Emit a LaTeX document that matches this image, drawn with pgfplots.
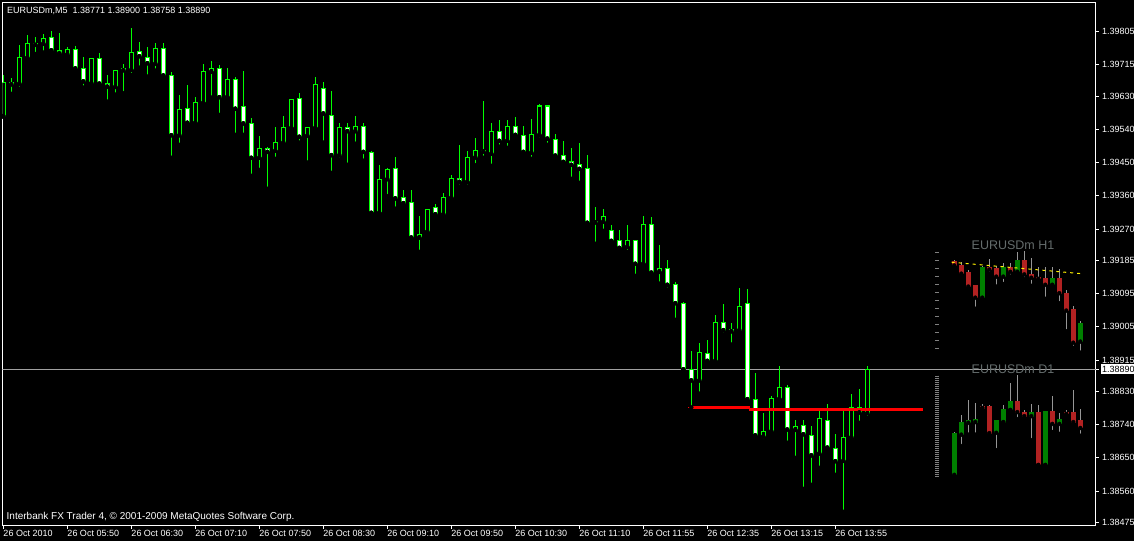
\documentclass[border=0pt]{standalone}
\usepackage{fontspec}
\setmainfont{Liberation Sans}
\usepackage{pgfplots}
\usepackage{pgfplotstable}
\pgfplotsset{compat=1.18}

\definecolor{mtgreen}{RGB}{0,255,0}
\definecolor{bidgray}{RGB}{160,160,160}
\definecolor{titlegray}{RGB}{100,108,108}
\definecolor{markgray}{RGB}{128,128,128}
\definecolor{minired}{RGB}{178,34,34}
\definecolor{minigreen}{RGB}{0,128,0}
\definecolor{wickgray}{RGB}{150,150,150}

% EURUSDm M5 candles: bar index, open, high, low, close
\pgfplotstableread{
x o h l c
0 1.39576 1.39687 1.39574 1.39667
2 1.39664 1.39768 1.39650 1.39735
3 1.39734 1.39795 1.39723 1.39773
4 1.39769 1.39789 1.39744 1.39772
5 1.39772 1.39798 1.39748 1.39785
8 1.39743 1.39762 1.39734 1.39757
11 1.39665 1.39734 1.39663 1.39732
14 1.39655 1.39702 1.39634 1.39700
15 1.39700 1.39716 1.39638 1.39705
16 1.39701 1.39814 1.39687 1.39749
19 1.39718 1.39773 1.39699 1.39759
22 1.39524 1.39633 1.39498 1.39594
24 1.39558 1.39627 1.39554 1.39613
25 1.39612 1.39716 1.39610 1.39697
26 1.39696 1.39725 1.39626 1.39705
28 1.39628 1.39705 1.39619 1.39675
32 1.39463 1.39522 1.39430 1.39489
34 1.39482 1.39546 1.39460 1.39505
35 1.39504 1.39576 1.39495 1.39545
36 1.39544 1.39623 1.39542 1.39621
38 1.39523 1.39547 1.39450 1.39545
39 1.39544 1.39681 1.39538 1.39662
42 1.39470 1.39557 1.39458 1.39545
44 1.39535 1.39575 1.39501 1.39548
47 1.39314 1.39443 1.39312 1.39405
48 1.39405 1.39434 1.39359 1.39432
52 1.39247 1.39305 1.39208 1.39256
53 1.39263 1.39325 1.39254 1.39323
55 1.39310 1.39367 1.39301 1.39356
56 1.39355 1.39416 1.39350 1.39407
58 1.39398 1.39481 1.39385 1.39464
59 1.39464 1.39516 1.39443 1.39483
60 1.39480 1.39617 1.39463 1.39483
61 1.39474 1.39557 1.39441 1.39535
63 1.39509 1.39565 1.39490 1.39548
66 1.39477 1.39568 1.39460 1.39526
67 1.39525 1.39609 1.39513 1.39603
74 1.39288 1.39330 1.39230 1.39291
75 1.39290 1.39324 1.39265 1.39304
78 1.39222 1.39281 1.39208 1.39239
80 1.39176 1.39305 1.39174 1.39283
82 1.39154 1.39227 1.39122 1.39163
87 1.38860 1.38960 1.38824 1.38936
89 1.38913 1.39037 1.38905 1.39017
92 1.38996 1.39110 1.38991 1.39061
95 1.38708 1.38771 1.38696 1.38722
96 1.38722 1.38818 1.38720 1.38811
97 1.38810 1.38899 1.38805 1.38841
99 1.38726 1.38753 1.38650 1.38736
102 1.38662 1.38784 1.38623 1.38757
105 1.38642 1.38780 1.38504 1.38706
106 1.38706 1.38823 1.38696 1.38787
108 1.38771 1.38900 1.38758 1.38890
}\mainbull

\pgfplotstableread{
x o h l c
1 1.39667 1.39678 1.39636 1.39662
6 1.39789 1.39806 1.39744 1.39754
7 1.39754 1.39800 1.39741 1.39746
9 1.39757 1.39766 1.39699 1.39705
10 1.39705 1.39735 1.39653 1.39670
12 1.39732 1.39746 1.39661 1.39664
13 1.39664 1.39687 1.39615 1.39656
17 1.39750 1.39776 1.39707 1.39738
18 1.39734 1.39762 1.39683 1.39719
20 1.39759 1.39773 1.39684 1.39686
21 1.39686 1.39694 1.39463 1.39524
23 1.39597 1.39660 1.39547 1.39558
27 1.39705 1.39714 1.39579 1.39627
29 1.39675 1.39681 1.39525 1.39596
30 1.39602 1.39698 1.39525 1.39556
31 1.39556 1.39570 1.39414 1.39463
33 1.39489 1.39491 1.39379 1.39479
37 1.39624 1.39638 1.39504 1.39520
40 1.39651 1.39667 1.39504 1.39583
41 1.39578 1.39644 1.39422 1.39470
43 1.39545 1.39557 1.39444 1.39535
45 1.39548 1.39557 1.39455 1.39479
46 1.39478 1.39480 1.39312 1.39314
49 1.39434 1.39464 1.39325 1.39353
50 1.39356 1.39376 1.39330 1.39340
51 1.39342 1.39376 1.39245 1.39247
54 1.39329 1.39338 1.39308 1.39310
57 1.39407 1.39497 1.39385 1.39398
62 1.39535 1.39565 1.39493 1.39509
64 1.39548 1.39573 1.39520 1.39525
65 1.39524 1.39549 1.39475 1.39479
68 1.39603 1.39605 1.39498 1.39515
69 1.39513 1.39526 1.39467 1.39469
70 1.39470 1.39508 1.39450 1.39452
71 1.39453 1.39489 1.39406 1.39444
72 1.39445 1.39503 1.39395 1.39433
73 1.39434 1.39470 1.39281 1.39287
76 1.39266 1.39281 1.39236 1.39238
77 1.39239 1.39267 1.39217 1.39219
79 1.39239 1.39241 1.39143 1.39176
81 1.39283 1.39302 1.39149 1.39152
83 1.39163 1.39186 1.39106 1.39119
84 1.39120 1.39126 1.39024 1.39069
85 1.39069 1.39071 1.38886 1.38890
86 1.38890 1.38939 1.38787 1.38860
88 1.38933 1.38969 1.38906 1.38913
90 1.39017 1.39067 1.38984 1.38996
91 1.38998 1.39015 1.38957 1.38993
93 1.39069 1.39107 1.38799 1.38809
94 1.38809 1.38880 1.38709 1.38711
98 1.38841 1.38847 1.38691 1.38727
100 1.38738 1.38753 1.38566 1.38714
101 1.38711 1.38736 1.38577 1.38657
103 1.38752 1.38796 1.38676 1.38678
104 1.38676 1.38715 1.38604 1.38641
107 1.38787 1.38837 1.38745 1.38773
}\mainbear

% H1 overview panel
\pgfplotstableread{
x o h l c
122.375 1.39084 1.39169 1.39078 1.39167
125 1.39141 1.39177 1.39121 1.39167
126.75 1.39154 1.39207 1.39152 1.39185
131.125 1.39119 1.39168 1.39117 1.39136
134.625 1.38965 1.39021 1.38935 1.39015
}\hbull
\pgfplotstableread{
x o h l c
118.875 1.39181 1.39186 1.39168 1.39171
119.75 1.39172 1.39180 1.39143 1.39149
120.625 1.39151 1.39159 1.39108 1.39114
121.5 1.39116 1.39118 1.39054 1.39084
123.25 1.39167 1.39188 1.39148 1.39160
124.125 1.39164 1.39170 1.39114 1.39141
125.875 1.39167 1.39177 1.39141 1.39154
127.625 1.39185 1.39210 1.39134 1.39147
128.5 1.39147 1.39191 1.39116 1.39138
129.375 1.39139 1.39167 1.39130 1.39135
130.25 1.39136 1.39168 1.39081 1.39119
132 1.39136 1.39161 1.39069 1.39096
132.875 1.39096 1.39105 1.38993 1.39049
133.75 1.39053 1.39061 1.38948 1.38962
}\hbear

% D1 overview panel
\pgfplotstableread{
x o h l c
118.875 1.38604 1.38721 1.38599 1.38715
119.75 1.38713 1.38766 1.38682 1.38747
120.625 1.38745 1.38807 1.38713 1.38750
121.5 1.38747 1.38799 1.38713 1.38753
124.125 1.38718 1.38751 1.38671 1.38750
125 1.38747 1.38793 1.38746 1.38782
125.875 1.38780 1.38854 1.38779 1.38804
128.5 1.38763 1.38796 1.38698 1.38772
130.25 1.38631 1.38778 1.38630 1.38777
132 1.38742 1.38772 1.38715 1.38753
}\dbull
\pgfplotstableread{
x o h l c
122.375 1.38790 1.38796 1.38785 1.38785
123.25 1.38788 1.38793 1.38713 1.38717
126.75 1.38804 1.38875 1.38755 1.38774
127.625 1.38772 1.38780 1.38753 1.38763
129.375 1.38774 1.38793 1.38630 1.38631
131.125 1.38777 1.38818 1.38720 1.38742
132.875 1.38774 1.38780 1.38766 1.38769
133.75 1.38772 1.38834 1.38739 1.38747
134.625 1.38750 1.38782 1.38710 1.38731
}\dbear

\pgfplotsset{
  candle/.style 2 args={only marks, mark=none, forget plot,
    error bars/.cd, y dir=plus, y explicit, error mark=none,
    error bar style={line width=#1, #2}},
}
\newcommand\mtfont{\fontsize{9}{10}\selectfont}

\begin{document}
\begin{tikzpicture}[x=1pt,y=1pt]
\fill[black] (-2.5,-15.5) rectangle (1131.5,525.5);
\begin{axis}[
  at={(0,0)}, anchor=south west,
  scale only axis, width=1093.5pt, height=523pt,
  xmin=-0.1, xmax=136.5875,
  ymin=1.3846686, ymax=1.3988356,
  axis line style={white, line width=1pt},
  major tick length=3pt, tick align=outside,
  tick style={white, line width=1pt},
  xtick={0,8,...,104}, xtick pos=left,
  xticklabels={26 Oct 2010,26 Oct 05:50,26 Oct 06:30,26 Oct 07:10,26 Oct 07:50,26 Oct 08:30,26 Oct 09:10,26 Oct 09:50,26 Oct 10:30,26 Oct 11:10,26 Oct 11:55,26 Oct 12:35,26 Oct 13:15,26 Oct 13:55},
  xticklabel style={anchor=north west, inner sep=0pt, text=white, font=\mtfont, yshift=-1.5pt},
  ytick={1.38475,1.38560,1.38650,1.38740,1.38830,1.38915,1.39005,1.39095,1.39185,1.39270,1.39360,1.39450,1.39540,1.39630,1.39715,1.39805},
  yticklabels={1.38475,1.38560,1.38650,1.38740,1.38830,1.38915,1.39005,1.39095,1.39185,1.39270,1.39360,1.39450,1.39540,1.39630,1.39715,1.39805},
  ytick pos=right, yticklabel pos=right,
  yticklabel style={anchor=west, inner sep=0pt, text=white, font=\mtfont, xshift=3pt},
  extra y ticks={1.38890}, extra y tick labels={1.38890},
  extra y tick style={yticklabel style={fill=white, text=black, inner xsep=1.5pt, inner ysep=2pt, xshift=-1.5pt}},
]
% current bid line
\addplot[bidgray, line width=1pt, forget plot] coordinates {(-0.1,1.38890) (136.5875,1.38890)};

% M5 candles: wicks, outlines, then body fills
\addplot[candle={1.2pt}{mtgreen}] table[x=x, y=l, y error plus expr=\thisrow{h}-\thisrow{l}] {\mainbull};
\addplot[candle={1.2pt}{mtgreen}] table[x=x, y=l, y error plus expr=\thisrow{h}-\thisrow{l}] {\mainbear};
\addplot[candle={5.2pt}{mtgreen, shorten <=-0.6pt, shorten >=-0.6pt}] table[x=x, y=o, y error plus expr=\thisrow{c}-\thisrow{o}] {\mainbull};
\addplot[candle={5.2pt}{mtgreen, shorten <=-0.6pt, shorten >=-0.6pt}] table[x=x, y=c, y error plus expr=\thisrow{o}-\thisrow{c}] {\mainbear};
\addplot[candle={2.8pt}{black, shorten <=0.6pt, shorten >=0.6pt}] table[x=x, y=o, y error plus expr=\thisrow{c}-\thisrow{o}] {\mainbull};
\addplot[candle={2.8pt}{white, shorten <=0.6pt, shorten >=0.6pt}] table[x=x, y=c, y error plus expr=\thisrow{o}-\thisrow{c}] {\mainbear};

% horizontal level
\addplot[red, line width=1pt, forget plot] coordinates {(85.60,1.38787) (86.0,1.38787)};
\addplot[red, line width=3pt, forget plot] coordinates {(85.95,1.38787) (93.34,1.38787)};
\addplot[red, line width=3pt, forget plot] coordinates {(93.21,1.38782) (114.96,1.38782)};

% panel scales
\addplot[markgray, line width=4pt, dash pattern=on 1pt off 7pt, forget plot] coordinates {(116.71,1.39208) (116.71,1.38946)};
\addplot[markgray, line width=4pt, dash pattern=on 1pt off 1pt, forget plot] coordinates {(116.71,1.38873) (116.71,1.38602)};

% H1 panel
\addplot[candle={1pt}{wickgray}] table[x=x, y=l, y error plus expr=\thisrow{h}-\thisrow{l}] {\hbull};
\addplot[candle={1pt}{wickgray}] table[x=x, y=l, y error plus expr=\thisrow{h}-\thisrow{l}] {\hbear};
\addplot[candle={5pt}{minigreen, shorten <=-0.5pt, shorten >=-0.5pt}] table[x=x, y=o, y error plus expr=\thisrow{c}-\thisrow{o}] {\hbull};
\addplot[candle={5pt}{minired, shorten <=-0.5pt, shorten >=-0.5pt}] table[x=x, y=c, y error plus expr=\thisrow{o}-\thisrow{c}] {\hbear};
\addplot[yellow, line width=1pt, dash pattern=on 3pt off 4pt, forget plot] coordinates {(118.55,1.39180) (134.8,1.39149)};

% D1 panel
\addplot[candle={1pt}{wickgray}] table[x=x, y=l, y error plus expr=\thisrow{h}-\thisrow{l}] {\dbull};
\addplot[candle={1pt}{wickgray}] table[x=x, y=l, y error plus expr=\thisrow{h}-\thisrow{l}] {\dbear};
\addplot[candle={5pt}{minigreen, shorten <=-0.5pt, shorten >=-0.5pt}] table[x=x, y=o, y error plus expr=\thisrow{c}-\thisrow{o}] {\dbull};
\addplot[candle={5pt}{minired, shorten <=-0.5pt, shorten >=-0.5pt}] table[x=x, y=c, y error plus expr=\thisrow{o}-\thisrow{c}] {\dbear};
\end{axis}

\node[anchor=base west, inner sep=0pt, text=white, font=\mtfont] at (4.5,511.5) {EURUSDm,M5\ \ 1.38771 1.38900 1.38758 1.38890};
\node[anchor=base west, inner sep=0pt, text=white, font=\fontsize{10}{11}\selectfont] at (4,6.5) {Interbank FX Trader 4, © 2001-2009 MetaQuotes Software Corp.};
\node[anchor=base, inner sep=0pt, text=titlegray, font=\fontsize{12.5}{13}\selectfont] at (1010.5,276.2) {EURUSDm H1};
\node[anchor=base, inner sep=0pt, text=titlegray, font=\fontsize{12.5}{13}\selectfont] at (1010.5,152.2) {EURUSDm D1};

\pgfresetboundingbox
\path (-2.5,-15.5) rectangle (1131.5,525.5);
\end{tikzpicture}
\end{document}
